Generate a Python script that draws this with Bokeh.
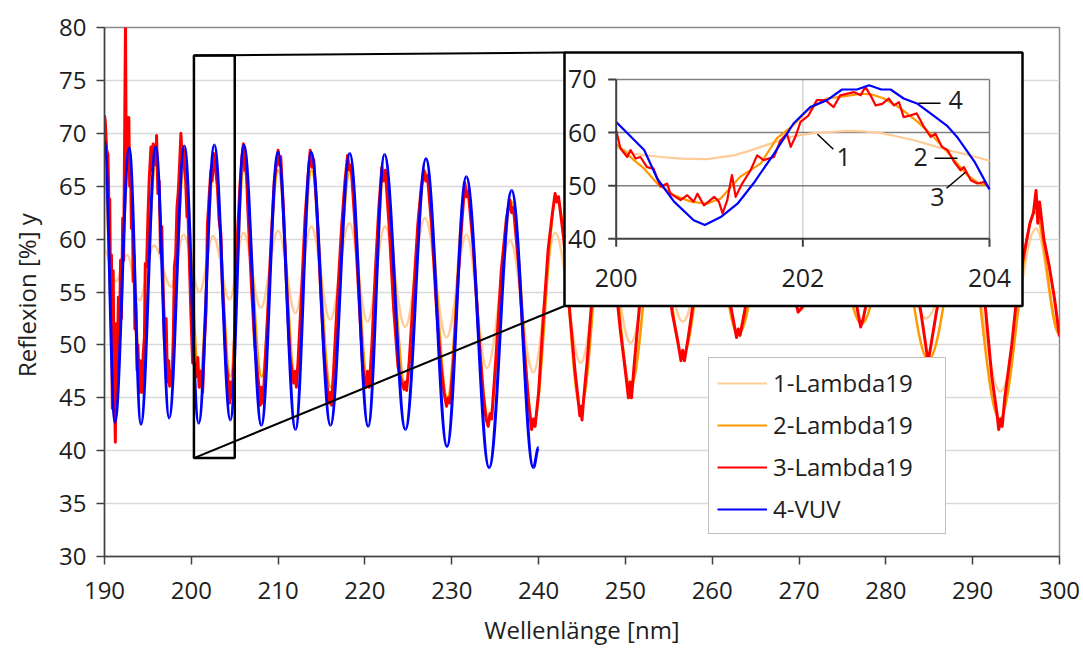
import numpy as np
from bokeh.plotting import figure
from bokeh.models import Range1d, ColumnDataSource, Legend, LegendItem, FixedTicker
from bokeh.embed import file_html
from bokeh.resources import INLINE
from bokeh.core.properties import value

# ---------------------------------------------------------------- data
X_TICKS = [190, 200, 210, 220, 230, 240, 250, 260, 270, 280, 290, 300]
Y_TICKS = [30, 35, 40, 45, 50, 55, 60, 65, 70, 75, 80]
SERIES_NAMES = ["1-Lambda19", "2-Lambda19", "3-Lambda19", "4-VUV"]

# 1-Lambda19 : maxima / minima
L1_X = [190.0, 191.3, 192.6, 194.0, 195.7, 197.7, 199.1, 200.95, 202.5, 204.4,
        206.0, 208.0, 210.0, 212.0, 213.8, 216.0, 218.2, 220.3, 222.3, 224.65,
        226.9, 229.4, 231.7, 234.05, 236.7, 239.4, 241.9, 244.85, 247.7, 250.6,
        253.6, 256.6, 259.8, 263.0, 266.5, 270.1, 273.6, 277.2, 281.0, 284.6,
        289.0, 293.2, 297.3, 300.0]
L1_Y = [59.0, 56.0, 58.5, 54.2, 59.4, 55.5, 60.4, 55.0, 60.3, 54.3,
        60.6, 53.5, 60.8, 53.0, 61.2, 52.4, 61.5, 52.2, 61.2, 51.7,
        62.0, 50.7, 60.4, 47.8, 59.9, 47.4, 60.6, 48.3, 60.5, 50.2,
        60.5, 52.2, 60.5, 53.8, 60.5, 54.6, 60.5, 54.3, 60.5, 52.5,
        61.0, 45.6, 61.0, 51.0]

# 2-Lambda19 : maxima / minima
L2_X = [190.0, 191.2, 192.8, 194.2, 195.9, 197.5, 199.2, 200.95, 202.65, 204.5,
        206.05, 208.1, 210.0, 212.0, 213.85, 216.05, 218.25, 220.4, 222.25, 224.65,
        227.0, 229.5, 231.6, 234.25, 236.9, 239.4, 242.1, 244.85, 247.7, 250.6,
        253.6, 256.6, 259.8, 263.0, 266.5, 270.1, 273.6, 277.2, 281.0, 284.9,
        289.0, 293.1, 297.2, 300.0]
L2_Y = [66.0, 46.0, 66.5, 46.5, 67.0, 47.0, 67.0, 46.8, 67.2, 47.0,
        66.5, 47.0, 66.5, 46.5, 66.5, 46.0, 66.3, 46.0, 66.5, 46.0,
        66.3, 45.0, 65.0, 43.0, 63.5, 42.5, 64.0, 44.0, 63.5, 46.0,
        62.5, 49.0, 62.0, 51.0, 61.5, 53.3, 61.5, 52.0, 62.0, 48.6,
        62.0, 43.0, 62.5, 51.0]

# 3-Lambda19 : noisy measurement
L3_X = [190.0, 190.1, 190.25, 190.4, 190.5, 190.6, 190.7, 190.8, 190.9, 191.0,
        191.1, 191.25, 191.35, 191.45, 191.6, 191.7, 191.85, 191.95, 192.1, 192.2,
        192.3, 192.42, 192.5, 192.6, 192.7, 192.8, 192.9, 193.0, 193.1, 193.2,
        193.3, 193.4, 193.5, 193.6, 193.75, 193.85, 194.0, 194.1, 194.3, 194.45,
        194.6, 194.7, 194.85, 195.0, 195.15, 195.35, 195.5, 195.6, 195.75, 195.9,
        196.0, 196.15, 196.3, 196.45, 196.6, 196.75, 196.9, 197.1, 197.25, 197.4,
        197.5, 197.65, 197.8, 197.95, 198.05, 198.2, 198.35, 198.5, 198.65, 198.8,
        198.95, 199.1, 199.2, 199.35, 199.5, 199.6, 199.75, 199.95, 200.15, 200.35,
        200.55, 200.75, 200.9, 201.1, 201.3, 201.5, 201.7, 201.85, 202.05, 202.25,
        202.4, 202.6, 202.8, 203.0, 203.2, 203.4, 203.6, 203.8, 204.0, 204.2,
        204.4, 204.55, 204.7, 204.9, 205.1, 205.35, 205.6, 205.8, 206.0, 206.15,
        206.3, 206.5, 206.9, 207.3, 207.6, 207.8, 207.95, 208.1, 208.25, 208.45,
        208.8, 209.2, 209.55, 209.8, 210.0, 210.15, 210.3, 210.6, 211.0, 211.35,
        211.6, 211.8, 211.95, 212.1, 212.3, 212.7, 213.1, 213.45, 213.7, 213.9,
        214.1, 214.5, 214.9, 215.3, 215.6, 215.85, 216.0, 216.15, 216.35, 216.8,
        217.3, 217.7, 218.0, 218.2, 218.4, 218.8, 219.3, 219.7, 219.95, 220.1,
        220.3, 220.5, 220.8, 221.2, 221.6, 221.95, 222.15, 222.35, 222.8, 223.3,
        223.8, 224.2, 224.5, 224.65, 224.8, 225.1, 225.6, 226.1, 226.5, 226.8,
        227.0, 227.2, 227.7, 228.2, 228.7, 229.1, 229.4, 229.6, 229.8, 230.2,
        230.7, 231.2, 231.5, 231.7, 231.9, 232.5, 233.1, 233.6, 233.95, 234.2,
        234.4, 234.6, 235.1, 235.7, 236.3, 236.7, 236.9, 237.1, 237.7, 238.3,
        238.85, 239.2, 239.4, 239.6, 240.0, 240.5, 241.1, 241.6, 241.9, 242.1,
        242.3, 242.9, 243.6, 244.2, 244.6, 244.75, 244.9, 245.0, 245.2, 245.6,
        246.2, 246.9, 247.5, 247.9, 248.6, 249.4, 250.0, 250.35, 250.55, 250.7,
        251.0, 251.6, 252.4, 253.2, 253.8, 254.6, 255.4, 256.0, 256.4, 256.6,
        256.8, 257.2, 258.0, 258.9, 259.8, 260.7, 261.7, 262.4, 262.8, 263.0,
        263.2, 263.7, 264.6, 265.6, 266.5, 267.5, 268.6, 269.5, 269.9, 270.3,
        271.0, 272.2, 273.5, 274.7, 275.9, 276.8, 277.1, 277.4, 278.0, 279.3,
        280.8, 282.2, 283.6, 284.5, 284.85, 285.1, 285.8, 287.2, 288.8, 290.2,
        291.3, 292.2, 292.8, 293.0, 293.2, 293.4, 293.7, 294.5, 295.2, 296.0,
        296.6, 297.0, 297.3, 297.5, 297.7, 298.2, 298.8, 299.4, 300.0]
L3_Y = [71.7, 71.0, 68.4, 68.0, 63.5, 63.8, 55.0, 58.5, 44.0, 57.0,
        47.0, 40.8, 52.0, 45.5, 54.5, 49.2, 58.0, 52.5, 62.0, 58.0,
        67.5, 80.5, 67.0, 71.5, 66.5, 71.5, 65.0, 67.0, 61.0, 64.0,
        56.0, 58.5, 51.5, 54.0, 47.6, 50.0, 45.5, 48.5, 45.5, 49.0,
        50.8, 57.7, 57.4, 62.0, 65.6, 68.7, 66.5, 69.0, 68.4, 67.0,
        69.8, 64.3, 65.5, 58.7, 61.2, 55.0, 50.5, 52.5, 46.5, 48.5,
        46.1, 47.5, 46.4, 52.0, 57.4, 58.5, 63.0, 64.5, 67.0, 70.0,
        67.5, 68.5, 66.8, 65.5, 62.1, 63.0, 58.7, 53.0, 48.3, 48.3,
        47.0, 48.8, 46.0, 47.5, 45.5, 50.0, 53.3, 61.2, 64.0, 66.5,
        65.5, 68.1, 66.5, 65.0, 61.8, 60.5, 55.0, 52.0, 48.3, 47.0,
        44.5, 46.5, 45.0, 48.5, 55.5, 61.0, 65.0, 67.5, 69.0, 66.5,
        67.5, 63.0, 56.0, 50.0, 47.5, 46.0, 44.3, 46.0, 44.5, 47.5,
        53.0, 60.0, 65.5, 67.0, 68.4, 67.0, 67.8, 63.0, 55.0, 49.0,
        47.5, 46.4, 47.5, 46.0, 48.5, 55.0, 62.0, 66.0, 68.4, 66.8,
        67.5, 62.0, 55.0, 49.0, 46.5, 44.5, 45.5, 44.3, 47.0, 54.0,
        61.0, 65.5, 67.9, 66.5, 67.0, 62.0, 54.5, 48.5, 46.5, 46.0,
        47.5, 46.0, 50.0, 57.0, 63.0, 66.8, 65.5, 66.5, 61.0, 53.5,
        48.0, 46.5, 45.8, 46.5, 45.7, 48.5, 55.0, 61.5, 65.0, 66.5,
        65.5, 66.0, 61.0, 54.0, 48.5, 45.5, 44.2, 45.0, 44.5, 48.5,
        56.0, 62.0, 65.3, 64.0, 64.5, 59.0, 51.0, 45.5, 43.0, 42.3,
        43.5, 43.0, 49.0, 57.0, 62.0, 63.7, 62.5, 63.0, 57.5, 50.0,
        44.5, 42.0, 43.0, 42.3, 45.5, 52.0, 59.0, 62.5, 64.3, 63.5,
        64.0, 60.0, 53.0, 47.5, 44.5, 43.3, 44.2, 42.9, 45.0, 48.5,
        55.0, 61.0, 63.5, 63.0, 58.0, 51.5, 47.5, 45.0, 46.5, 45.0,
        48.0, 53.5, 59.5, 62.5, 62.0, 58.0, 53.0, 50.5, 48.5, 49.5,
        48.5, 50.5, 55.0, 60.0, 62.0, 60.0, 55.5, 52.5, 50.7, 51.5,
        50.9, 53.0, 57.5, 61.0, 62.0, 60.5, 57.0, 54.5, 53.1, 53.5,
        55.5, 59.5, 62.0, 61.0, 57.0, 53.0, 51.7, 52.5, 55.0, 59.5,
        62.0, 60.5, 55.5, 50.5, 48.4, 49.5, 53.0, 58.5, 62.0, 60.5,
        55.0, 47.0, 43.5, 42.0, 43.0, 42.3, 45.0, 50.0, 55.5, 59.0,
        61.5, 62.5, 64.6, 61.5, 63.5, 60.0, 57.5, 54.5, 50.8]

# 4-VUV : maxima / minima (measured 190-240 nm only)
VUV_X = [190.0, 191.2, 192.85, 194.2, 195.9, 197.45, 199.2, 200.85, 202.65, 204.5,
         206.05, 208.07, 209.98, 212.0, 213.8, 216.03, 218.25, 220.37, 222.25, 224.66,
         227.03, 229.45, 231.67, 234.3, 236.9, 239.4, 240.0]
VUV_Y = [69.3, 42.7, 68.6, 42.5, 68.7, 43.1, 68.8, 42.6, 68.9, 42.9,
         68.9, 42.4, 68.2, 42.0, 68.2, 42.4, 68.1, 42.3, 68.0, 42.0,
         67.6, 40.4, 65.9, 38.4, 64.6, 38.4, 40.3]

# ---- inset 200-204 nm
IN_X_TICKS = [200, 202, 204]
IN_Y_TICKS = [40, 50, 60, 70]
IN1_X = [200.0, 200.19, 200.48, 200.7, 200.97, 201.26, 201.4, 201.55, 201.7, 201.83,
         202.0, 202.12, 202.3, 202.48, 202.65, 202.84, 203.0, 203.2, 203.4, 203.55,
         203.75, 204.0]
IN1_Y = [57.3, 56.0, 55.4, 55.1, 55.0, 55.7, 56.4, 57.3, 58.2, 59.0,
         59.6, 59.9, 60.1, 60.3, 60.2, 59.9, 59.3, 58.5, 57.5, 56.7,
         55.9, 54.7]
IN2_X = [200.0, 200.1, 200.19, 200.3, 200.44, 200.62, 200.8, 200.97, 201.12, 201.33,
         201.55, 201.72, 201.9, 202.05, 202.26, 202.44, 202.62, 202.73, 202.87, 203.05,
         203.23, 203.4, 203.58, 203.76, 203.88, 204.0]
IN2_Y = [57.9, 56.3, 54.8, 53.2, 50.4, 48.2, 47.0, 46.6, 47.6, 51.7,
         54.2, 58.9, 61.4, 64.2, 66.4, 66.8, 67.3, 67.2, 66.4, 64.5,
         62.0, 59.2, 55.7, 52.0, 50.5, 49.8]
IN3_X = [200.0, 200.046, 200.118, 200.154, 200.207, 200.26, 200.33, 200.4, 200.475, 200.546,
         200.58, 200.69, 200.76, 200.83, 200.87, 200.94, 201.05, 201.1, 201.14, 201.19,
         201.24, 201.28, 201.35, 201.44, 201.51, 201.58, 201.69, 201.76, 201.83, 201.87,
         201.92, 201.975, 202.06, 202.15, 202.24, 202.33, 202.4, 202.55, 202.62, 202.67,
         202.725, 202.78, 202.85, 202.92, 202.975, 203.03, 203.08, 203.15, 203.22, 203.3,
         203.37, 203.42, 203.49, 203.55, 203.62, 203.69, 203.725, 203.8, 203.87, 203.94,
         204.0]
IN3_Y = [60.4, 57.0, 55.4, 56.7, 55.1, 55.4, 53.5, 53.2, 49.8, 50.4,
         48.5, 47.3, 48.2, 47.0, 48.5, 46.3, 47.9, 47.0, 44.8, 47.3,
         52.0, 47.9, 50.4, 52.9, 55.7, 54.8, 55.4, 58.5, 59.8, 57.3,
         59.2, 62.0, 63.2, 66.1, 66.1, 64.8, 67.0, 67.6, 67.0, 68.6,
         67.0, 65.1, 65.4, 66.4, 65.1, 65.7, 62.9, 63.2, 63.6, 61.0,
         59.2, 59.8, 57.3, 56.7, 54.5, 52.9, 53.5, 51.0, 50.4, 50.7,
         49.5]
IN4_X = [200.0, 200.3, 200.44, 200.62, 200.83, 200.95, 201.12, 201.3, 201.47, 201.69,
         201.9, 202.08, 202.26, 202.42, 202.58, 202.71, 202.84, 202.94, 203.08, 203.23,
         203.4, 203.55, 203.66, 203.84, 204.0]
IN4_Y = [62.0, 56.7, 51.3, 47.0, 43.5, 42.6, 44.1, 46.6, 50.4, 56.0,
         61.7, 64.8, 66.1, 68.1, 68.1, 68.9, 68.1, 68.1, 66.4, 65.4,
         63.2, 61.2, 59.0, 54.5, 49.3]
# curve labels in the inset (label, x, y) and their leader lines
IN_LABELS = [("1", 202.436, 55.35), ("2", 203.261, 55.35), ("3", 203.443, 47.83), ("4", 203.636, 66.06)]
IN_LEADERS_X0 = [202.157, 203.411, 203.540, 203.239]
IN_LEADERS_Y0 = [59.67, 55.16, 49.52, 65.49]
IN_LEADERS_X1 = [202.327, 203.657, 203.743, 203.475]
IN_LEADERS_Y1 = [56.85, 55.16, 52.53, 65.49]

# ---------------------------------------------------------------- layout
W, H = 1083, 648
FL, FR, FT, FB = 104, 1059, 27, 557          # main plot frame (px)
IN_PX = (615.7, 989.0, 79.0, 238.7)          # inset: px of x=200, x=204, y=70, y=40
BOX_PX = (564, 1022, 52, 306)                # inset white box (px)
ZOOM_BOX = (200.3, 205.0, 39.3, 77.35)       # marked region in main data units

COL = ["#FFCC99", "#FF9900", "#FF0000", "#0000FF"]
FONT = "Open Sans"
TXT = "#1E1E1E"


def main_x(px):
    return X_TICKS[0] + (px - FL) * (X_TICKS[-1] - X_TICKS[0]) / (FR - FL)


def main_y(py):
    return Y_TICKS[0] + (FB - py) * (Y_TICKS[-1] - Y_TICKS[0]) / (FB - FT)


def in_x(px):
    return IN_X_TICKS[0] + (px - IN_PX[0]) * (IN_X_TICKS[-1] - IN_X_TICKS[0]) / (IN_PX[1] - IN_PX[0])


def in_y(py):
    return IN_Y_TICKS[-1] - (py - IN_PX[2]) * (IN_Y_TICKS[-1] - IN_Y_TICKS[0]) / (IN_PX[3] - IN_PX[2])


def bez_source(xs, ys, k=0.364):
    x = np.asarray(xs, float)
    y = np.asarray(ys, float)
    d = np.diff(x)
    return ColumnDataSource(dict(x0=x[:-1], y0=y[:-1], x1=x[1:], y1=y[1:],
                                 cx0=x[:-1] + k * d, cy0=y[:-1],
                                 cx1=x[1:] - k * d, cy1=y[1:]))


p = figure(width=W, height=H, title=None, output_backend="svg", toolbar_location=None,
           x_range=Range1d(X_TICKS[0], X_TICKS[-1]), y_range=Range1d(Y_TICKS[0], Y_TICKS[-1]),
           min_border_left=FL, min_border_right=W - FR, min_border_top=FT, min_border_bottom=H - FB)
p.extra_x_ranges = {"ix": Range1d(in_x(FL), in_x(FR))}
p.extra_y_ranges = {"iy": Range1d(in_y(FB), in_y(FT))}

p.outline_line_color = "#8A8A8A"
p.outline_line_width = 1.5
p.xgrid.grid_line_color = None
p.ygrid.grid_line_color = "#D9D9D9"
p.ygrid.grid_line_width = 1.5

p.xaxis.ticker = FixedTicker(ticks=X_TICKS)
p.yaxis.ticker = FixedTicker(ticks=Y_TICKS)
for ax in (p.xaxis[0], p.yaxis[0]):
    ax.axis_line_color = "#404040"
    ax.axis_line_width = 1.5
    ax.major_tick_line_color = "#404040"
    ax.major_tick_line_width = 1.5
    ax.major_tick_out = 8
    ax.major_tick_in = 0
    ax.minor_tick_line_color = None
    ax.major_label_text_font = FONT
    ax.major_label_text_font_size = "24px"
    ax.major_label_text_color = TXT
    ax.axis_label_text_font = FONT
    ax.axis_label_text_font_size = "24px"
    ax.axis_label_text_font_style = "normal"
    ax.axis_label_text_color = TXT
p.xaxis.axis_label = "Wellenlänge [nm]"
p.yaxis.axis_label = "Reflexion [%]  y"
p.xaxis.major_label_standoff = 17
p.yaxis.major_label_standoff = 10
p.xaxis.axis_label_standoff = 11
p.yaxis.axis_label_standoff = 13

# ---- main series
p.bezier(x0="x0", y0="y0", x1="x1", y1="y1", cx0="cx0", cy0="cy0", cx1="cx1", cy1="cy1",
         source=bez_source(L1_X, L1_Y), line_color=COL[0], line_width=2.5)
p.bezier(x0="x0", y0="y0", x1="x1", y1="y1", cx0="cx0", cy0="cy0", cx1="cx1", cy1="cy1",
         source=bez_source(L2_X, L2_Y), line_color=COL[1], line_width=2.5)
p.line(L3_X, L3_Y, line_color=COL[2], line_width=3, line_join="round")
p.bezier(x0="x0", y0="y0", x1="x1", y1="y1", cx0="cx0", cy0="cy0", cx1="cx1", cy1="cy1",
         source=bez_source(VUV_X, VUV_Y), line_color=COL[3], line_width=3)

# ---- zoom marker and connector lines
p.quad(left=[ZOOM_BOX[0]], right=[ZOOM_BOX[1]], bottom=[ZOOM_BOX[2]], top=[ZOOM_BOX[3]],
       fill_color=None, line_color="black", line_width=2.5)
p.segment(x0=[ZOOM_BOX[0], ZOOM_BOX[0]], y0=[ZOOM_BOX[3], ZOOM_BOX[2]],
          x1=[main_x(BOX_PX[0]), main_x(BOX_PX[0])], y1=[main_y(BOX_PX[2]), main_y(BOX_PX[3])],
          line_color="black", line_width=2)

# ---- inset
IR = dict(x_range_name="ix", y_range_name="iy")
p.quad(left=[in_x(BOX_PX[0])], right=[in_x(BOX_PX[1])], top=[in_y(BOX_PX[2])], bottom=[in_y(BOX_PX[3])],
       fill_color="white", line_color="black", line_width=2.5, **IR)
x_lo, x_hi = IN_X_TICKS[0], IN_X_TICKS[-1]
y_lo, y_hi = IN_Y_TICKS[0], IN_Y_TICKS[-1]
# vertical light grid line + right border
p.segment(x0=IN_X_TICKS[1:-1], x1=IN_X_TICKS[1:-1], y0=[y_lo] * len(IN_X_TICKS[1:-1]),
          y1=[y_hi] * len(IN_X_TICKS[1:-1]), line_color="#D4D4D4", line_width=1.5, **IR)
p.segment(x0=[x_hi], x1=[x_hi], y0=[y_lo], y1=[y_hi], line_color="#808080", line_width=1.5, **IR)
# horizontal grid lines
p.segment(x0=[x_lo] * 3, x1=[x_hi] * 3, y0=IN_Y_TICKS[1:], y1=IN_Y_TICKS[1:],
          line_color="#808080", line_width=1.5, **IR)

in_r = [p.line(xs, ys, line_color=c, line_width=2.2, line_join="round", **IR)
        for xs, ys, c in zip((IN1_X, IN2_X, IN3_X, IN4_X), (IN1_Y, IN2_Y, IN3_Y, IN4_Y), COL)]

# inset axes and ticks
tick_dx = in_x(IN_PX[0]) - in_x(IN_PX[0] - 8)
tick_dy = in_y(IN_PX[3]) - in_y(IN_PX[3] + 8)
p.segment(x0=[x_lo, x_lo], y0=[y_lo, y_lo], x1=[x_lo, x_hi], y1=[y_hi, y_lo],
          line_color="#404040", line_width=2, **IR)
p.segment(x0=[x_lo - tick_dx] * len(IN_Y_TICKS), x1=[x_lo] * len(IN_Y_TICKS),
          y0=IN_Y_TICKS, y1=IN_Y_TICKS, line_color="#404040", line_width=2, **IR)
p.segment(x0=IN_X_TICKS, x1=IN_X_TICKS, y0=[y_lo - tick_dy] * len(IN_X_TICKS),
          y1=[y_lo] * len(IN_X_TICKS), line_color="#404040", line_width=2, **IR)
p.text(x=[in_x(596)] * len(IN_Y_TICKS), y=IN_Y_TICKS, text=[str(t) for t in IN_Y_TICKS],
       text_font=value(FONT), text_font_size="25px", text_color=TXT,
       text_align="right", text_baseline="middle", **IR)
p.text(x=IN_X_TICKS, y=[in_y(278)] * len(IN_X_TICKS), text=[str(t) for t in IN_X_TICKS],
       text_font=value(FONT), text_font_size="25px", text_color=TXT,
       text_align="center", text_baseline="middle", **IR)
# curve labels
p.segment(x0=IN_LEADERS_X0, y0=IN_LEADERS_Y0, x1=IN_LEADERS_X1, y1=IN_LEADERS_Y1,
          line_color="black", line_width=1.5, **IR)
p.text(x=[l[1] for l in IN_LABELS], y=[l[2] for l in IN_LABELS], text=[l[0] for l in IN_LABELS],
       text_font=value(FONT), text_font_size="25px", text_color=TXT,
       text_align="center", text_baseline="middle", **IR)

# ---- legend
legend = Legend(items=[LegendItem(label=n, renderers=[r]) for n, r in zip(SERIES_NAMES, in_r)],
                location=(604, 22))
legend.border_line_color = "#808080"
legend.border_line_width = 1.5
legend.background_fill_color = "white"
legend.background_fill_alpha = 1.0
legend.label_text_font = FONT
legend.label_text_font_size = "24px"
legend.label_text_color = TXT
legend.glyph_width = 50
legend.glyph_height = 26
legend.label_height = 26
legend.label_width = 164
legend.spacing = 9
legend.padding = 8
legend.label_standoff = 6
legend.margin = 0
p.add_layout(legend)

open("out.html", "w").write(file_html(p, INLINE))
